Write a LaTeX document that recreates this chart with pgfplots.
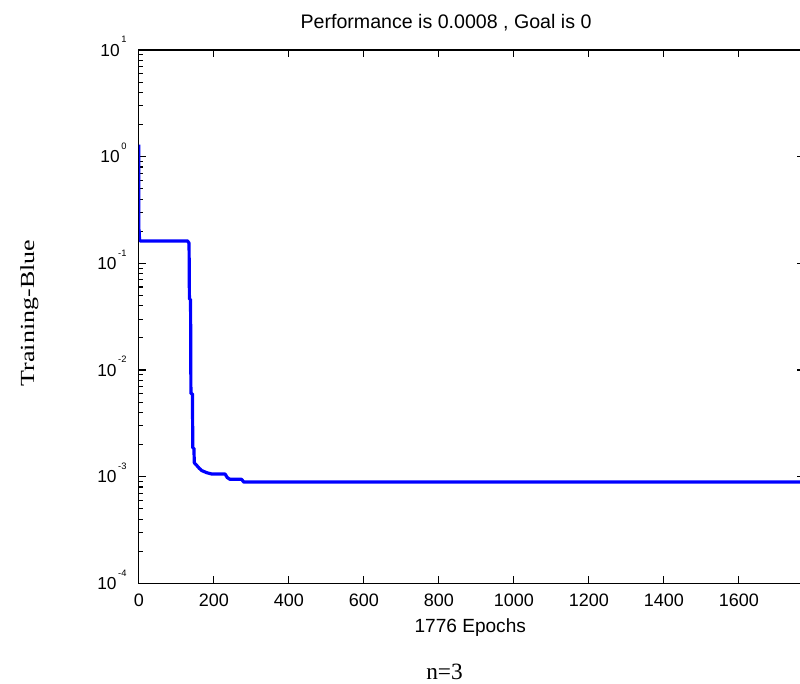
\documentclass[border=0pt]{standalone}
\usepackage{pgfplots}
\pgfplotsset{compat=1.18}
\usepackage{fontspec}
\setmainfont{Liberation Serif}
\newfontfamily\arial{Liberation Sans}
\newcommand{\ytl}[1]{10\hspace{1.2pt}\raisebox{10pt}{\fontsize{7}{7}\selectfont #1}}
\begin{document}
\begin{tikzpicture}
\useasboundingbox (0,0) rectangle (600pt,513pt);
\clip (0,0) rectangle (600pt,513pt);
\begin{axis}[
  at={(104.1pt,75.5pt)}, anchor=south west,
  scale only axis, width=499.5pt, height=400pt,
  xmin=0, xmax=1776, ymode=log, log basis y=10, ymin=1e-4, ymax=10,
  xtick={0,200,400,600,800,1000,1200,1400,1600},
  xticklabels={0,200,400,600,800,1000,1200,1400,1600},
  ytick={1e-4,1e-3,1e-2,1e-1,1,10},
  yticklabels={\ytl{-4},\ytl{-3},\ytl{-2},\ytl{-1},\ytl{0},\ytl{1}},
  minor ytick={2e-4,3e-4,4e-4,5e-4,6e-4,7e-4,8e-4,9e-4,
               2e-3,3e-3,4e-3,5e-3,6e-3,7e-3,8e-3,9e-3,
               0.02,0.03,0.04,0.05,0.06,0.07,0.08,0.09,
               0.2,0.3,0.4,0.5,0.6,0.7,0.8,0.9,
               2,3,4,5,6,7,8,9},
  tick align=inside, tick pos=both,
  major tick length=5.5pt, minor tick length=3pt,
  axis line style={black, line width=0.9pt},
  every tick/.style={black, line width=0.9pt},
  xticklabel style={font=\arial\fontsize{13.5}{13.5}\selectfont, inner sep=0pt, anchor=north, yshift=-7.5pt},
  yticklabel style={font=\arial\fontsize{13}{13}\selectfont, inner sep=0pt, anchor=base east, xshift=-9pt, yshift=-4.65pt},
]
\addplot[color={rgb,255:red,0;green,0;blue,255}, line width=2.4pt, line join=round] coordinates {
(0,1.3) (0,0.21) (1,0.2) (2,0.165) (4,0.162) (130,0.162) (134,0.155)
(135,0.046) (138,0.046) (139,0.006) (143,0.006) (144,0.00185) (147,0.00185)
(148,0.00135) (154,0.00128) (161,0.0012) (168,0.00114) (181,0.00109)
(194,0.00106) (230,0.00106) (236,0.00098) (243,0.000944) (274,0.000944)
(280,0.00089) (1776,0.00089)
};
\end{axis}
\node[anchor=base, inner sep=0pt, font=\arial\fontsize{14.7}{14.7}\selectfont] at (334.5pt,491.25pt) {Performance is 0.0008 , Goal is 0};
\node[anchor=base, inner sep=0pt, font=\arial\fontsize{14.3}{14.3}\selectfont] at (352.7pt,38.25pt) {1776 Epochs};
\node[anchor=base, inner sep=0pt, rotate=90, font=\fontsize{15}{15}\selectfont] at (25.5pt,278.25pt) {\scalebox{1.3}[1]{Training-Blue}};
\node[anchor=base, inner sep=0pt, font=\fontsize{17.5}{17.5}\selectfont] at (333.4pt,3.2pt) {n=3};
\end{tikzpicture}
\end{document}
